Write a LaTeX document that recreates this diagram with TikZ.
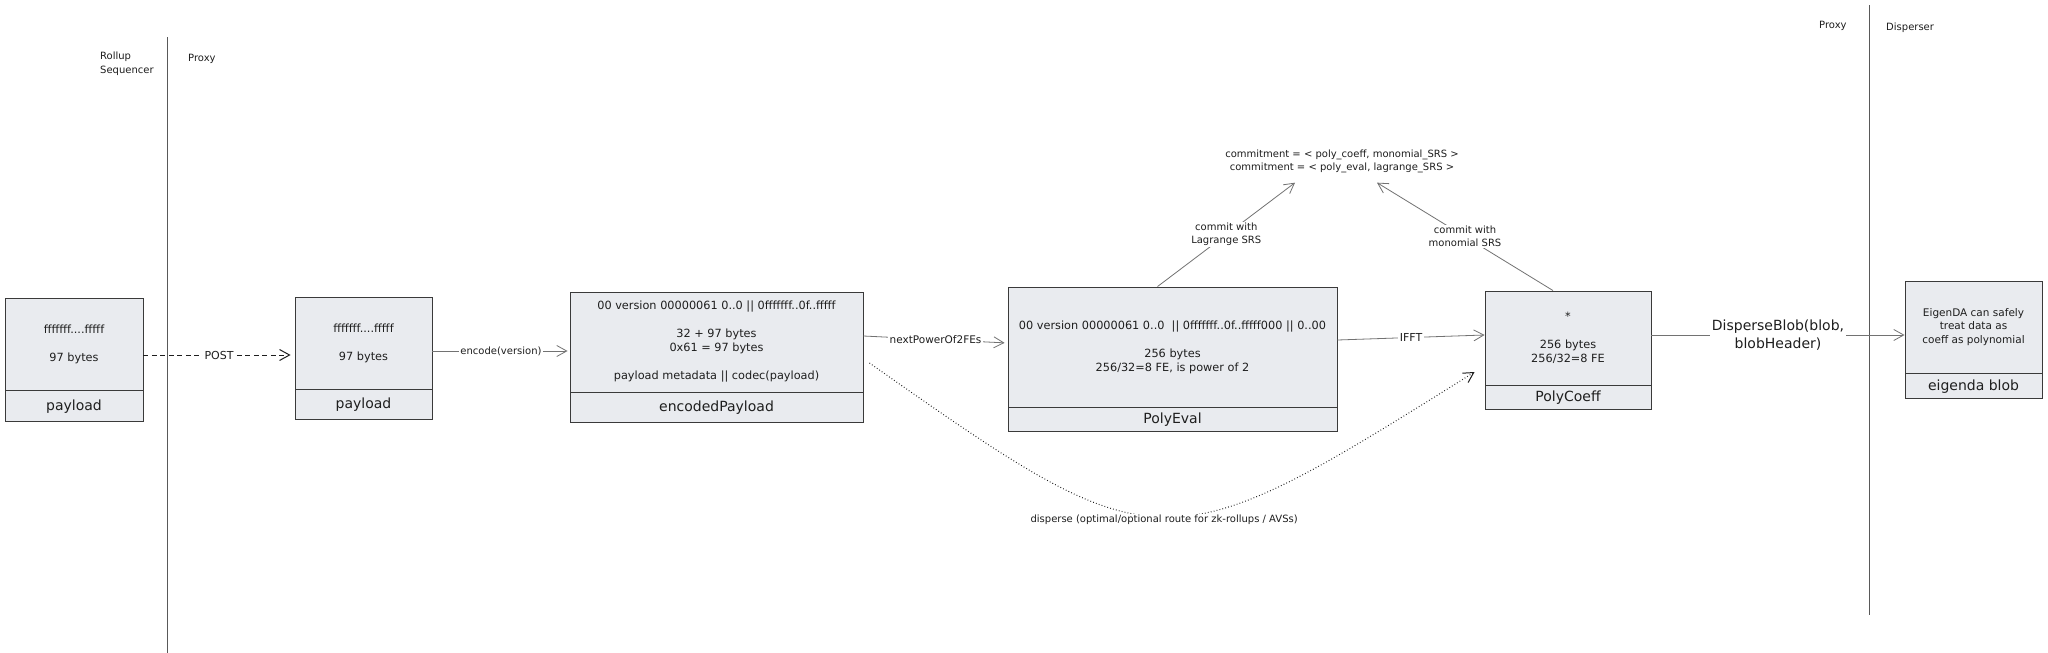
\documentclass[tikz,border=0pt]{standalone}
\usepackage{fontspec}
\setmainfont{DejaVu Sans}
\usetikzlibrary{arrows.meta,positioning}
\definecolor{ink}{HTML}{1E1E1E}
\definecolor{boxfill}{HTML}{E9EBEF}
\definecolor{boxline}{HTML}{3A3A3A}
\definecolor{wire}{HTML}{727272}
\tikzstyle{cell}=[draw=boxline,fill=boxfill,line width=0.9pt,inner sep=0pt,align=center,text=ink,font=\fontsize{11.3}{14}\selectfont]
\tikzstyle{caption}=[cell,font=\fontsize{14}{17}\selectfont]
\tikzstyle{wireline}=[draw=wire,line width=0.8pt,-{Straight Barb[length=10pt,width=11pt]}]
\tikzstyle{post}=[wireline,draw=ink,line width=1pt,dash pattern=on 5pt off 3.5pt]
\tikzstyle{route}=[wireline,draw=ink,line width=1pt,dash pattern=on 0.8pt off 2.2pt]
\tikzstyle{tag}=[fill=white,inner sep=1.5pt,align=center,text=ink,font=\fontsize{10}{13}\selectfont]
\tikzstyle{lane}=[anchor=west,inner sep=0pt,align=left,text=ink,font=\fontsize{10}{14}\selectfont]
\tikzstyle{laneline}=[draw=black!65,line width=1pt]

\begin{document}
\begin{tikzpicture}[x=1pt,y=-1pt]
    \path[use as bounding box,fill=white] (0,0) rectangle (2048,653);
    % Lanes first
    \foreach \x/\top/\bot in {167/37/653, 1869/5/615}
        \draw[laneline] (\x,\top) -- (\x,\bot);
    \node[lane] (laneSeq) at (100,64) {Rollup\\Sequencer};
    \foreach \pos/\name/\txt in {{(188,59)/laneProxyL/Proxy}, {(1819,26)/laneProxyR/Proxy}, {(1886,28)/laneDisp/Disperser}}
        \node[lane] (\name) at \pos {\txt};
    % Then the boxes
    \node[cell,minimum width=138,minimum height=92] (rsPayload) at (74,344) {fffffff....fffff\\[14pt]97 bytes};
    \node[cell,minimum width=137,minimum height=92] (pxPayload) at (363.5,343) {fffffff....fffff\\[14pt]97 bytes};
    \node[cell,minimum width=293,minimum height=100] (encPayload) at (716.5,342) {00 version 00000061 0..0 || 0fffffff..0f..fffff\\[14pt]32 + 97 bytes\\0x61 = 97 bytes\\[14pt]payload metadata || codec(payload)};
    \node[cell,minimum width=329,minimum height=120] (polyEval) at (1172.5,347) {00 version 00000061 0..0 \ || 0fffffff..0f..fffff000 || 0..00\\[14pt]256 bytes\\256/32=8 FE, is power of 2};
    \node[cell,minimum width=166,minimum height=94] (polyCoeff) at (1568,338) {*\\[14pt]256 bytes\\256/32=8 FE};
    \node[cell,minimum width=137,minimum height=92,font=\fontsize{10.5}{13.5}\selectfont] (blob) at (1973.5,327) {EigenDA can safely\\treat data as\\coeff as polynomial};
    \foreach \name/\w/\h/\txt in {rsPayload/138/31/payload, pxPayload/137/30/payload, encPayload/293/30/encodedPayload, polyEval/329/24/PolyEval, polyCoeff/166/24/PolyCoeff, blob/137/25/eigenda blob}
        \node[caption,minimum width=\w,minimum height=\h,below=0pt of \name] (\name-cap) {\txt};
    \node[tag,inner sep=0pt,inner ysep=10pt] (commit) at (1342,161) {commitment = < poly\_coeff, monomial\_SRS >\\commitment = < poly\_eval, lagrange\_SRS >};
    % Connect the boxes
    \draw[post,shorten >=4pt] ([yshift=-11pt]rsPayload.east) -- node[tag,font=\fontsize{11}{13}\selectfont]{POST} ([yshift=-12pt]pxPayload.west);
    \draw[wireline,shorten >=2pt] ([yshift=-8pt]pxPayload.east) -- node[tag]{encode(version)} ([yshift=-9pt]encPayload.west);
    \draw[wireline,shorten >=3pt] ([yshift=6pt]encPayload.east) -- node[tag,font=\fontsize{10.5}{13}\selectfont]{nextPowerOf2FEs} ([yshift=4pt]polyEval.west);
    \draw[wireline] ([yshift=7pt]polyEval.east) -- node[tag,font=\fontsize{11}{13}\selectfont]{IFFT} ([yshift=3pt]polyCoeff.west);
    \draw[wireline] ([yshift=3pt]polyCoeff.east) -- node[tag,font=\fontsize{14}{18}\selectfont]{DisperseBlob(blob,\\blobHeader)} ([yshift=-8pt]blob.west);
    \draw[wireline] ([xshift=-15pt]polyEval.north) -- node[tag]{commit with\\Lagrange SRS} ([xshift=-47pt]commit.south);
    \draw[wireline] ([xshift=-15pt]polyCoeff.north) -- node[tag]{commit with\\monomial SRS} ([xshift=35pt]commit.south);
    \draw[route] ([xshift=6pt,yshift=-21pt]encPayload.east) .. controls (1160,567) and (1163,567) .. node[tag,pos=0.5,yshift=-3pt]{disperse (optimal/optional route for zk-rollups / AVSs)} ([xshift=-10pt,yshift=-34pt]polyCoeff.west);
\end{tikzpicture}
\end{document}
